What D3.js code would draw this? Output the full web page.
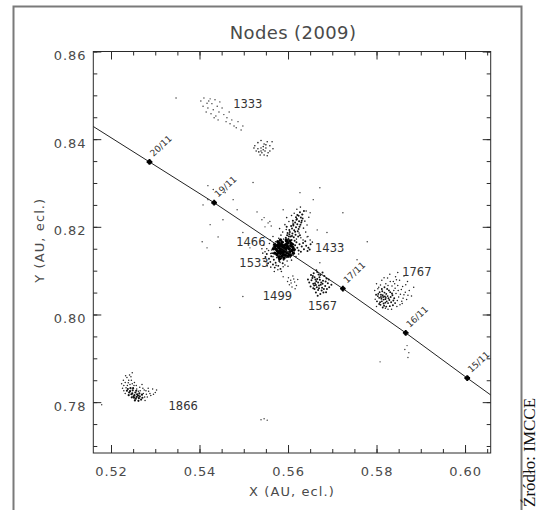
<!DOCTYPE html>
<html><head><meta charset="utf-8">
<script src="https://cdn.jsdelivr.net/npm/d3@7"></script>
<style>body{margin:0;background:#fff}svg{display:block}</style>
</head><body><svg id="c" width="539" height="510"></svg>
<script>
// ---------- data ----------
const chartTitle = "Nodes (2009)";
const xTitle = "X (AU, ecl.)";
const yTitle = "Y (AU, ecl.)";
const sourceNote = "Źródło: IMCCE";
const xDomain = [0.516, 0.6058];
const yDomain = [0.7684, 0.86];
const xTicks = [0.52, 0.54, 0.56, 0.58, 0.60];
const xTickLabels = ["0.52", "0.54", "0.56", "0.58", "0.60"];
const yTicks = [0.78, 0.80, 0.82, 0.84, 0.86];
const yTickLabels = ["0.78", "0.80", "0.82", "0.84", "0.86"];
const minorStep = 0.005;

// Earth path with daily positions
const earthDates = ["21/11", "20/11", "19/11", "18/11", "17/11", "16/11", "15/11", "14/11"];
const earthX = [0.5141, 0.5287, 0.5433, 0.5578, 0.5724, 0.5866, 0.6005, 0.6145];
const earthY = [0.8441, 0.8348, 0.8255, 0.8157, 0.8059, 0.7958, 0.7855, 0.7753];
const earthMarked = [false, true, true, true, true, true, true, false];
const earthLabelled = [false, true, true, false, true, true, true, false];

// stream labels (anchor = left end of text baseline, in data units)
const streamNames = ["1333", "1466", "1433", "1533", "1499", "1567", "1767", "1866"];
const streamLabelX = [0.5476, 0.5483, 0.5661, 0.5490, 0.5543, 0.5645, 0.5858, 0.5330];
const streamLabelY = [0.8471, 0.8156, 0.8143, 0.8108, 0.8033, 0.8010, 0.8087, 0.7782];

// node clouds
const dots1333 = [[0.5403,0.8487],[0.5410,0.8494],[0.5417,0.8482],[0.5424,0.8492],[0.5428,0.8481],[0.5435,0.8490],[0.5408,0.8475],[0.5419,0.8471],[0.5431,0.8467],[0.5440,0.8475],[0.5446,0.8485],[0.5451,0.8471],[0.5415,0.8462],[0.5426,0.8458],[0.5437,0.8453],[0.5444,0.8462],[0.5455,0.8456],[0.5462,0.8449],[0.5467,0.8462],[0.5473,0.8444],[0.5460,0.8440],[0.5469,0.8435],[0.5478,0.8430],[0.5487,0.8440],[0.5483,0.8426],[0.5494,0.8421],[0.5498,0.8430],[0.5442,0.8444],[0.5433,0.8449],[0.5421,0.8487],[0.5347,0.8494]];
const dotsSmall = [[0.5525,0.8385],[0.5532,0.8392],[0.5539,0.8397],[0.5546,0.8389],[0.5553,0.8394],[0.5559,0.8385],[0.5566,0.8378],[0.5532,0.8378],[0.5539,0.8380],[0.5544,0.8376],[0.5548,0.8373],[0.5541,0.8369],[0.5534,0.8371],[0.5550,0.8380],[0.5555,0.8369],[0.5546,0.8364],[0.5537,0.8364],[0.5528,0.8373],[0.5559,0.8373],[0.5544,0.8383],[0.5553,0.8362],[0.5564,0.8394],[0.5523,0.8380],[0.5550,0.8387],[0.5539,0.8373]];
const dotsCore = [[0.5591,0.8150],[0.5586,0.8153],[0.5595,0.8147],[0.5582,0.8146],[0.5599,0.8155],[0.5588,0.8142],[0.5593,0.8158],[0.5579,0.8152],[0.5603,0.8150],[0.5585,0.8160],[0.5597,0.8141],[0.5576,0.8145],[0.5606,0.8157],[0.5590,0.8137],[0.5581,0.8157],[0.5600,0.8163],[0.5573,0.8149],[0.5609,0.8146],[0.5587,0.8165],[0.5594,0.8135],[0.5583,0.8139],[0.5598,0.8152],[0.5589,0.8148],[0.5592,0.8144],[0.5584,0.8150],[0.5596,0.8160],[0.5578,0.8141],[0.5604,0.8143],[0.5571,0.8155],[0.5611,0.8153],[0.5580,0.8163],[0.5602,0.8138],[0.5575,0.8137],[0.5607,0.8162],[0.5586,0.8133],[0.5597,0.8167],[0.5590,0.8155],[0.5583,0.8144],[0.5594,0.8151],[0.5588,0.8157],[0.5570,0.8160],[0.5577,0.8166],[0.5583,0.8170],[0.5596,0.8170],[0.5604,0.8168],[0.5610,0.8160],[0.5614,0.8148],[0.5612,0.8140],[0.5600,0.8133],[0.5591,0.8129],[0.5580,0.8132],[0.5570,0.8140],[0.5567,0.8150],[0.5581,0.8127],[0.5606,0.8135]];
const dotsArm = [[0.5601,0.8172],[0.5606,0.8178],[0.5598,0.8181],[0.5610,0.8185],[0.5604,0.8188],[0.5614,0.8192],[0.5609,0.8196],[0.5618,0.8199],[0.5612,0.8203],[0.5621,0.8206],[0.5616,0.8210],[0.5625,0.8213],[0.5620,0.8218],[0.5629,0.8221],[0.5624,0.8225],[0.5632,0.8228],[0.5627,0.8233],[0.5636,0.8236],[0.5608,0.8170],[0.5613,0.8176],[0.5595,0.8175],[0.5617,0.8182],[0.5603,0.8193],[0.5622,0.8190],[0.5607,0.8202],[0.5626,0.8200],[0.5611,0.8214],[0.5630,0.8210],[0.5618,0.8222],[0.5633,0.8219],[0.5623,0.8178],[0.5599,0.8186],[0.5615,0.8168],[0.5605,0.8166],[0.5597,0.8200],[0.5603,0.8183],[0.5616,0.8189],[0.5609,0.8179],[0.5619,0.8216],[0.5624,0.8195],[0.5628,0.8205],[0.5612,0.8206],[0.5631,0.8214],[0.5621,0.8227],[0.5602,0.8178],[0.5627,0.8181]];
const dotsHalo = [[0.5560,0.8170],[0.5566,0.8178],[0.5572,0.8166],[0.5579,0.8174],[0.5584,0.8181],[0.5590,0.8172],[0.5596,0.8194],[0.5588,0.8188],[0.5581,0.8196],[0.5593,0.8205],[0.5602,0.8212],[0.5597,0.8221],[0.5608,0.8226],[0.5614,0.8231],[0.5620,0.8240],[0.5628,0.8245],[0.5635,0.8197],[0.5640,0.8188],[0.5645,0.8178],[0.5650,0.8170],[0.5655,0.8165],[0.5643,0.8204],[0.5638,0.8213],[0.5647,0.8222],[0.5633,0.8228],[0.5641,0.8236],[0.5625,0.8186],[0.5629,0.8175],[0.5634,0.8170],[0.5619,0.8172],[0.5612,0.8138],[0.5605,0.8130],[0.5598,0.8122],[0.5593,0.8113],[0.5585,0.8098],[0.5577,0.8102],[0.5569,0.8098],[0.5561,0.8108],[0.5553,0.8111],[0.5546,0.8122],[0.5543,0.8140],[0.5556,0.8146],[0.5561,0.8139],[0.5566,0.8132],[0.5571,0.8139],[0.5577,0.8133],[0.5582,0.8119],[0.5596,0.8130],[0.5608,0.8124],[0.5618,0.8132],[0.5624,0.8138],[0.5614,0.8145],[0.5600,0.8110],[0.5589,0.8109],[0.5573,0.8112]];
const dots1433 = [[0.5616,0.8158],[0.5621,0.8152],[0.5626,0.8160],[0.5631,0.8155],[0.5636,0.8149],[0.5641,0.8157],[0.5646,0.8152],[0.5651,0.8160],[0.5624,0.8146],[0.5634,0.8163],[0.5644,0.8145],[0.5619,0.8165],[0.5639,0.8167],[0.5649,0.8148],[0.5629,0.8143]];
const dots1533 = [[0.5575,0.8130],[0.5568,0.8125],[0.5580,0.8122],[0.5562,0.8133],[0.5572,0.8118],[0.5585,0.8128],[0.5557,0.8127],[0.5566,0.8114],[0.5578,0.8111],[0.5552,0.8138],[0.5560,0.8120],[0.5588,0.8117],[0.5570,0.8107],[0.5583,0.8104],[0.5549,0.8131],[0.5564,0.8140],[0.5590,0.8125],[0.5555,0.8117]];
const dots1466 = [[0.5545,0.8158],[0.5552,0.8150],[0.5558,0.8162],[0.5548,0.8143],[0.5563,0.8147],[0.5567,0.8156],[0.5541,0.8150]];
const dotsScatter = [[0.5408,0.8250],[0.5419,0.8262],[0.5458,0.8278],[0.5476,0.8262],[0.5485,0.8239],[0.5453,0.8216],[0.5424,0.8205],[0.5406,0.8166],[0.5442,0.8177],[0.5498,0.8187],[0.5541,0.8216],[0.5555,0.8209],[0.5548,0.8200],[0.5559,0.8212],[0.5530,0.8234],[0.5589,0.8239],[0.5611,0.8209],[0.5627,0.8278],[0.5657,0.8262],[0.5672,0.8289],[0.5650,0.8232],[0.5666,0.8193],[0.5643,0.8177],[0.5688,0.8187],[0.5724,0.8232],[0.5779,0.8166],[0.5756,0.8125],[0.5672,0.8118],[0.5589,0.8086],[0.5498,0.8041],[0.5446,0.8016],[0.5417,0.8152],[0.5514,0.8152],[0.5546,0.8221],[0.5562,0.8202],[0.5419,0.8294],[0.5431,0.8285],[0.5521,0.8301],[0.5869,0.7929],[0.5873,0.7913],[0.5871,0.7902],[0.5808,0.7892],[0.5864,0.7920],[0.5179,0.7794],[0.5539,0.7760],[0.5546,0.7762],[0.5553,0.7759]];
const dots1567 = [[0.5668,0.8073],[0.5662,0.8080],[0.5674,0.8068],[0.5657,0.8070],[0.5679,0.8077],[0.5665,0.8062],[0.5671,0.8085],[0.5653,0.8078],[0.5684,0.8065],[0.5660,0.8058],[0.5676,0.8055],[0.5669,0.8091],[0.5656,0.8088],[0.5687,0.8082],[0.5681,0.8058],[0.5663,0.8050],[0.5673,0.8047],[0.5651,0.8064],[0.5690,0.8071],[0.5666,0.8097],[0.5659,0.8066],[0.5677,0.8061],[0.5664,0.8076],[0.5672,0.8079],[0.5655,0.8083],[0.5682,0.8088],[0.5668,0.8056],[0.5661,0.8071],[0.5675,0.8073],[0.5670,0.8066],[0.5693,0.8062],[0.5658,0.8094],[0.5686,0.8051],[0.5648,0.8073],[0.5678,0.8096],[0.5667,0.8043],[0.5663,0.8067],[0.5670,0.8060],[0.5666,0.8081],[0.5678,0.8070],[0.5660,0.8085],[0.5673,0.8090],[0.5685,0.8075],[0.5657,0.8060],[0.5680,0.8050],[0.5688,0.8058],[0.5652,0.8090],[0.5664,0.8101],[0.5692,0.8080],[0.5698,0.8068],[0.5645,0.8080]];
const dots1499 = [[0.5601,0.8084],[0.5606,0.8078],[0.5611,0.8088],[0.5615,0.8074],[0.5603,0.8068],[0.5609,0.8063],[0.5619,0.8066],[0.5613,0.8081],[0.5622,0.8080],[0.5607,0.8072],[0.5616,0.8059],[0.5599,0.8075]];
const dots1767Core = [[0.5815,0.8040],[0.5820,0.8035],[0.5810,0.8045],[0.5825,0.8042],[0.5812,0.8030],[0.5818,0.8050],[0.5806,0.8038],[0.5829,0.8033],[0.5816,0.8025],[0.5822,0.8047],[0.5808,0.8028],[0.5832,0.8040],[0.5813,0.8053],[0.5826,0.8026],[0.5804,0.8047],[0.5819,0.8041],[0.5823,0.8030],[0.5811,0.8036],[0.5835,0.8048],[0.5817,0.8020],[0.5828,0.8055],[0.5809,0.8022],[0.5838,0.8032],[0.5814,0.8044],[0.5821,0.8038],[0.5803,0.8042],[0.5807,0.8051],[0.5812,0.8058],[0.5818,0.8062],[0.5824,0.8058],[0.5831,0.8051],[0.5836,0.8044],[0.5840,0.8037],[0.5842,0.8026],[0.5837,0.8021],[0.5830,0.8019],[0.5822,0.8018],[0.5814,0.8016],[0.5806,0.8024],[0.5801,0.8030],[0.5799,0.8045],[0.5816,0.8034],[0.5827,0.8037],[0.5820,0.8027],[0.5810,0.8040],[0.5833,0.8028]];
const dots1767 = [[0.5800,0.8070],[0.5812,0.8078],[0.5825,0.8083],[0.5838,0.8075],[0.5848,0.8066],[0.5856,0.8057],[0.5862,0.8045],[0.5868,0.8034],[0.5858,0.8025],[0.5846,0.8018],[0.5834,0.8012],[0.5820,0.8014],[0.5800,0.8018],[0.5797,0.8035],[0.5796,0.8055],[0.5830,0.8092],[0.5843,0.8086],[0.5852,0.8078],[0.5866,0.8068],[0.5874,0.8055],[0.5879,0.8042],[0.5842,0.8060],[0.5850,0.8040],[0.5857,0.8030],[0.5835,0.8065],[0.5805,0.8062],[0.5870,0.8075],[0.5862,0.8088],[0.5884,0.8062],[0.5848,0.8096],[0.5844,0.8048],[0.5849,0.8055],[0.5854,0.8046],[0.5860,0.8037],[0.5853,0.8022],[0.5841,0.8070],[0.5831,0.8075],[0.5821,0.8070],[0.5809,0.8067],[0.5817,0.8084],[0.5859,0.8064],[0.5865,0.8051],[0.5871,0.8044],[0.5845,0.8079],[0.5826,0.8066],[0.5839,0.8055],[0.5847,0.8032],[0.5803,0.8059],[0.5826,0.8012]];
const dots1866Core = [[0.5238,0.7830],[0.5243,0.7825],[0.5248,0.7820],[0.5253,0.7816],[0.5258,0.7812],[0.5263,0.7809],[0.5268,0.7806],[0.5241,0.7822],[0.5246,0.7818],[0.5251,0.7813],[0.5256,0.7808],[0.5261,0.7815],[0.5236,0.7826],[0.5249,0.7827],[0.5265,0.7813],[0.5255,0.7822],[0.5244,0.7832],[0.5271,0.7810],[0.5259,0.7818],[0.5252,0.7810],[0.5240,0.7816],[0.5247,0.7811],[0.5254,0.7804],[0.5262,0.7803],[0.5270,0.7817],[0.5257,0.7826],[0.5264,0.7820],[0.5250,0.7832]];
const dots1866 = [[0.5232,0.7845],[0.5240,0.7850],[0.5248,0.7842],[0.5257,0.7838],[0.5265,0.7834],[0.5275,0.7828],[0.5285,0.7825],[0.5294,0.7830],[0.5280,0.7818],[0.5273,0.7820],[0.5229,0.7838],[0.5236,0.7856],[0.5245,0.7858],[0.5226,0.7832],[0.5262,0.7825],[0.5270,0.7840],[0.5282,0.7812],[0.5290,0.7815],[0.5300,0.7822],[0.5253,0.7845],[0.5237,0.7838],[0.5277,0.7804],[0.5242,0.7862],[0.5228,0.7850],[0.5233,0.7860],[0.5239,0.7844],[0.5246,0.7850],[0.5252,0.7838],[0.5258,0.7830],[0.5266,0.7826],[0.5272,0.7832],[0.5279,0.7826],[0.5288,0.7820],[0.5296,0.7818],[0.5243,0.7840],[0.5234,0.7833],[0.5229,0.7826],[0.5276,0.7812],[0.5232,0.7820],[0.5224,0.7842],[0.5303,0.7828],[0.5284,0.7832],[0.5248,0.7867]];

// ---------- drawing ----------
const W = 539, H = 510;
const plot = {l: 93.3, t: 51.5, r: 490.7, b: 453};
const svg = d3.select("#c");
const FONT = "'DejaVu Sans', sans-serif";
const INK = "#2a2a2a";
const TXT = "#4a4a4a";

const x = d3.scaleLinear().domain(xDomain).range([plot.l, plot.r]);
const y = d3.scaleLinear().domain(yDomain).range([plot.b, plot.t]);

// outer frame
svg.append("path")
  .attr("d", `M13.5,${H + 2} V6.5 H521.5 V${H + 2}`)
  .attr("fill", "none").attr("stroke", "#7a7a7a").attr("stroke-width", 2);

// source note
svg.append("text")
  .attr("transform", "translate(535,507) rotate(-90)")
  .attr("font-family", "'Liberation Serif', 'Times New Roman', serif")
  .attr("font-size", 17).attr("fill", "#111")
  .text(sourceNote);

// title
svg.append("text")
  .attr("x", (plot.l + plot.r) / 2 + 1).attr("y", 39)
  .attr("text-anchor", "middle")
  .attr("font-family", FONT).attr("font-size", 18)
  .attr("letter-spacing", 0.4)
  .attr("fill", TXT)
  .text(chartTitle);

// clip
svg.append("clipPath").attr("id", "clip")
  .append("rect").attr("x", plot.l).attr("y", plot.t)
  .attr("width", plot.r - plot.l).attr("height", plot.b - plot.t);

const gPlot = svg.append("g").attr("clip-path", "url(#clip)");

// dots
function drawDots(arr, r, fill) {
  gPlot.append("g").selectAll("circle").data(arr).join("circle")
    .attr("cx", d => x(d[0])).attr("cy", d => y(d[1]))
    .attr("r", r).attr("fill", fill);
}
drawDots(dotsScatter, 0.7, "#333");
drawDots(dots1333, 0.7, "#333");
drawDots(dotsSmall, 0.8, "#222");
drawDots(dots1466, 0.8, "#222");
drawDots(dots1499, 0.75, "#333");
drawDots(dotsHalo, 0.8, "#222");
drawDots(dotsArm, 1.0, "#111");
drawDots(dots1433, 1.0, "#111");
drawDots(dots1533, 0.95, "#111");
drawDots(dotsCore, 1.7, "#000");
drawDots(dots1567, 1.0, "#111");
drawDots(dots1767, 0.75, "#222");
drawDots(dots1767Core, 0.95, "#111");
drawDots(dots1866, 0.75, "#222");
drawDots(dots1866Core, 1.1, "#111");

// Earth path
const earth = earthDates.map((d, i) => ({date: d, x: earthX[i], y: earthY[i], mark: earthMarked[i], lab: earthLabelled[i]}));
gPlot.append("path")
  .datum(earth)
  .attr("d", d3.line().x(d => x(d.x)).y(d => y(d.y)))
  .attr("fill", "none").attr("stroke", "#222").attr("stroke-width", 1);

gPlot.append("g").selectAll("path").data(earth.filter(d => d.mark)).join("path")
  .attr("transform", d => `translate(${x(d.x)},${y(d.y)})`)
  .attr("d", d3.symbol().type(d3.symbolCross).size(18))
  .attr("fill", "#000");
gPlot.append("g").selectAll("path").data(earth.filter(d => d.mark)).join("path")
  .attr("transform", d => `translate(${x(d.x)},${y(d.y)}) rotate(45)`)
  .attr("d", d3.symbol().type(d3.symbolCross).size(12))
  .attr("fill", "#000");

svg.append("g").selectAll("text").data(earth.filter(d => d.lab)).join("text")
  .attr("transform", d => `translate(${x(d.x) + 4},${y(d.y) - 5}) rotate(-43)`)
  .attr("font-family", FONT).attr("font-size", 9)
  .attr("fill", "#333")
  .text(d => d.date);

// stream labels
svg.append("g").selectAll("text").data(streamNames).join("text")
  .attr("x", (d, i) => x(streamLabelX[i]))
  .attr("y", (d, i) => y(streamLabelY[i]))
  .attr("font-family", FONT).attr("font-size", 11.5)
  .attr("fill", "#333")
  .text(d => d);

// axes
const minorX = d3.range(0.52, 0.6059, minorStep).filter(v => x(v) >= plot.l - 0.1 && x(v) <= plot.r + 0.1);
const minorY = d3.range(0.77, 0.8601, minorStep).filter(v => y(v) <= plot.b + 0.1 && y(v) >= plot.t - 0.1);

function styleAxis(g) {
  g.select(".domain").remove();
  g.selectAll("line").attr("stroke", INK).attr("stroke-width", 1);
  g.selectAll("text").attr("font-family", FONT).attr("font-size", 13)
    .attr("letter-spacing", 0.9).attr("fill", TXT);
}

// minor ticks all sides
svg.append("g").attr("transform", `translate(0,${plot.b})`)
  .call(d3.axisBottom(x).tickValues(minorX).tickSize(-4).tickFormat("")).call(styleAxis);
svg.append("g").attr("transform", `translate(0,${plot.t})`)
  .call(d3.axisTop(x).tickValues(minorX).tickSize(-4).tickFormat("")).call(styleAxis);
svg.append("g").attr("transform", `translate(${plot.l},0)`)
  .call(d3.axisLeft(y).tickValues(minorY).tickSize(-4).tickFormat("")).call(styleAxis);
svg.append("g").attr("transform", `translate(${plot.r},0)`)
  .call(d3.axisRight(y).tickValues(minorY).tickSize(-4).tickFormat("")).call(styleAxis);

// major ticks
svg.append("g").attr("transform", `translate(0,${plot.b})`)
  .call(d3.axisBottom(x).tickValues(xTicks).tickSize(-8).tickPadding(14)
    .tickFormat((d, i) => xTickLabels[i])).call(styleAxis);
svg.append("g").attr("transform", `translate(0,${plot.t})`)
  .call(d3.axisTop(x).tickValues(xTicks).tickSize(-8).tickFormat("")).call(styleAxis);
const gy = svg.append("g").attr("transform", `translate(${plot.l},0)`)
  .call(d3.axisLeft(y).tickValues(yTicks).tickSize(-8).tickPadding(7)
    .tickFormat((d, i) => yTickLabels[i])).call(styleAxis);
gy.selectAll("text").attr("dy", "0.62em");
svg.append("g").attr("transform", `translate(${plot.r},0)`)
  .call(d3.axisRight(y).tickValues(yTicks).tickSize(-8).tickFormat("")).call(styleAxis);

// plot box
svg.append("rect")
  .attr("x", plot.l).attr("y", plot.t)
  .attr("width", plot.r - plot.l).attr("height", plot.b - plot.t)
  .attr("fill", "none").attr("stroke", INK).attr("stroke-width", 1);

// axis titles
svg.append("text")
  .attr("x", (plot.l + plot.r) / 2).attr("y", 496)
  .attr("text-anchor", "middle")
  .attr("font-family", FONT).attr("font-size", 13).attr("letter-spacing", 1.1)
  .attr("fill", TXT)
  .text(xTitle);
svg.append("text")
  .attr("transform", `translate(44,${(plot.t + plot.b) / 2 - 12}) rotate(-90)`)
  .attr("text-anchor", "middle")
  .attr("font-family", FONT).attr("font-size", 13).attr("letter-spacing", 1.1)
  .attr("fill", TXT)
  .text(yTitle);
</script>
</body></html>
